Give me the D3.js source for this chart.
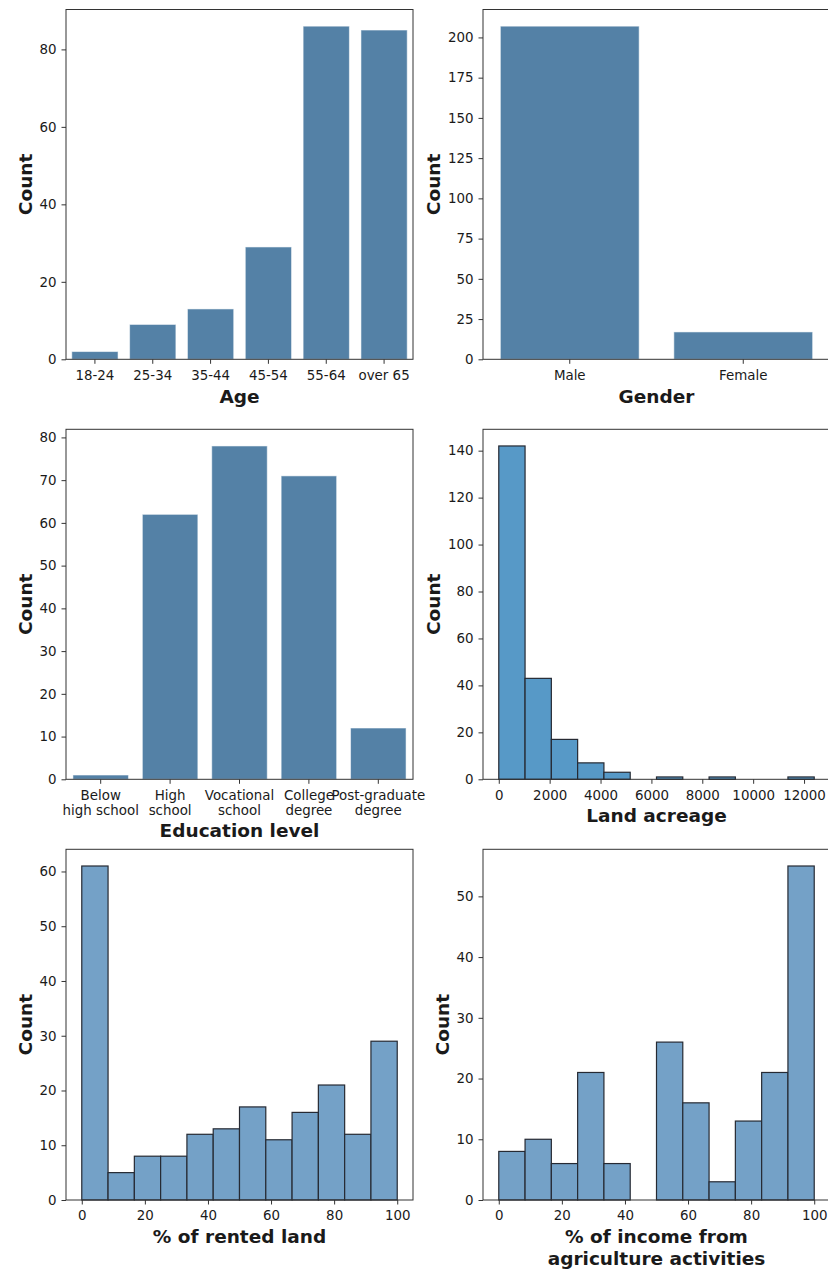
<!DOCTYPE html>
<html>
<head>
<meta charset="utf-8">
<script src="https://cdn.jsdelivr.net/npm/d3@7"></script>
<style>
  html, body { margin: 0; padding: 0; background: #fff; }
  svg { display: block; }
  text { font-family: "DejaVu Sans", sans-serif; fill: #1a1a1a; }
</style>
</head>
<body>
<svg id="chart" width="828" height="1270"></svg>
<script>
// ---------- DATA ----------
const ageCategories = ["18-24", "25-34", "35-44", "45-54", "55-64", "over 65"];
const ageCounts = [2, 9, 13, 29, 86, 85];
const ageTicks = [0, 20, 40, 60, 80];

const genderCategories = ["Male", "Female"];
const genderCounts = [207, 17];
const genderTicks = [0, 25, 50, 75, 100, 125, 150, 175, 200];

const eduCategories = ["Below\nhigh school", "High\nschool", "Vocational\nschool", "College\ndegree", "Post-graduate\ndegree"];
const eduCounts = [1, 62, 78, 71, 12];
const eduTicks = [0, 10, 20, 30, 40, 50, 60, 70, 80];

const landRange = [0, 12400];
const landCounts = [142, 43, 17, 7, 3, 0, 1, 0, 1, 0, 0, 1];
const landYTicks = [0, 20, 40, 60, 80, 100, 120, 140];
const landXTicks = [0, 2000, 4000, 6000, 8000, 10000, 12000];

const rentedRange = [0, 100];
const rentedCounts = [61, 5, 8, 8, 12, 13, 17, 11, 16, 21, 12, 29];
const rentedYTicks = [0, 10, 20, 30, 40, 50, 60];

const incomeRange = [0, 100];
const incomeCounts = [8, 10, 6, 21, 6, 0, 26, 16, 3, 13, 21, 55];
const incomeYTicks = [0, 10, 20, 30, 40, 50];

const pctXTicks = [0, 20, 40, 60, 80, 100];

// ---------- LAYOUT ----------
const svg = d3.select("#chart");
svg.append("rect").attr("width", 828).attr("height", 1270).attr("fill", "#fff");

const cols = [[66, 413], [483, 830]];
const rows = [[9.5, 359.3], [429.3, 779.3], [849.3, 1200]];
const SPINE = "#333";
const TICKFONT = 13.4;
const LABELFONT = 18.5;
const fmt = d3.format("d");

function styleAxis(g) {
  g.select(".domain").remove();
  g.selectAll(".tick line").attr("stroke", SPINE).attr("stroke-width", 1);
  g.selectAll(".tick text").attr("font-size", TICKFONT).attr("fill", "#1a1a1a")
    .attr("font-family", "DejaVu Sans, sans-serif");
}

function frame(col, row, opts) {
  const [x0, x1] = cols[col];
  const [yt, yb] = rows[row];
  const g = svg.append("g");
  const y = d3.scaleLinear().domain([0, d3.max(opts.counts) * 1.05]).range([yb, yt]);
  return { g, x0, x1, yt, yb, y };
}

function finish(p, opts, xAxisGen) {
  const { g, x0, x1, yt, yb, y } = p;
  const ya = g.append("g").attr("transform", `translate(${x0},0)`)
    .call(d3.axisLeft(y).tickValues(opts.yTicks).tickFormat(fmt).tickSize(4.5).tickPadding(5));
  styleAxis(ya);
  const xa = g.append("g").attr("transform", `translate(0,${yb})`).call(xAxisGen);
  styleAxis(xa);
  xa.selectAll(".tick text").each(function(d) {
    const t = d3.select(this);
    const label = t.text();
    if (label.includes("\n")) {
      const lines = label.split("\n");
      t.text(null);
      lines.forEach((ln, i) => {
        t.append("tspan").attr("x", 0).attr("dy", i === 0 ? "0.71em" : 15).text(ln);
      });
      t.attr("dy", null);
    }
  });
  g.append("rect").attr("x", x0).attr("y", yt).attr("width", x1 - x0).attr("height", yb - yt)
    .attr("fill", "none").attr("stroke", SPINE).attr("stroke-width", 1);
  g.append("text")
    .attr("transform", `translate(${x0 - opts.yLabelOffset},${(yt + yb) / 2}) rotate(-90)`)
    .attr("text-anchor", "middle").attr("font-weight", "bold").attr("font-size", LABELFONT)
    .text("Count");
  const xl = g.append("text").attr("text-anchor", "middle").attr("font-weight", "bold")
    .attr("font-size", LABELFONT);
  const xc = (x0 + x1) / 2;
  opts.xLabel.forEach((ln, i) => {
    xl.append("tspan").attr("x", xc).attr("y", yb + opts.xLabelOffset + i * 21.5).text(ln);
  });
}

function countPanel(col, row, opts) {
  const p = frame(col, row, opts);
  const x = d3.scaleBand().domain(opts.categories).range([p.x0, p.x1])
    .paddingInner(0.2).paddingOuter(0.1);
  p.g.append("g").selectAll("rect").data(opts.categories).join("rect")
    .attr("x", d => x(d)).attr("width", x.bandwidth())
    .attr("y", (d, i) => p.y(opts.counts[i]))
    .attr("height", (d, i) => p.y(0) - p.y(opts.counts[i]))
    .attr("fill", "#5481a6").attr("stroke", "#ffffff").attr("stroke-opacity", 0.55).attr("stroke-width", 1);
  finish(p, opts, d3.axisBottom(x).tickSize(4.5).tickPadding(6.3));
}

function histPanel(col, row, opts) {
  const p = frame(col, row, opts);
  const [lo, hi] = opts.range;
  const pad = (hi - lo) * 0.05;
  const x = d3.scaleLinear().domain([lo - pad, hi + pad]).range([p.x0, p.x1]);
  const n = opts.counts.length;
  const w = (hi - lo) / n;
  const bins = opts.counts.map((c, i) => ({ a: lo + i * w, b: lo + (i + 1) * w, c }));
  p.g.append("g").selectAll("rect").data(bins.filter(b => b.c > 0)).join("rect")
    .attr("x", d => x(d.a)).attr("width", d => x(d.b) - x(d.a))
    .attr("y", d => p.y(d.c)).attr("height", d => p.y(0) - p.y(d.c))
    .attr("fill", opts.color).attr("stroke", "#262a33").attr("stroke-width", 1.2);
  finish(p, opts, d3.axisBottom(x).tickValues(opts.xTicks).tickFormat(fmt).tickSize(4.5).tickPadding(6.3));
}

countPanel(0, 0, { categories: ageCategories, counts: ageCounts, yTicks: ageTicks,
  xLabel: ["Age"], xLabelOffset: 43.5, yLabelOffset: 34.5 });
countPanel(1, 0, { categories: genderCategories, counts: genderCounts, yTicks: genderTicks,
  xLabel: ["Gender"], xLabelOffset: 43.5, yLabelOffset: 42.7 });
countPanel(0, 1, { categories: eduCategories, counts: eduCounts, yTicks: eduTicks,
  xLabel: ["Education level"], xLabelOffset: 57.4, yLabelOffset: 34.5 });
histPanel(1, 1, { range: landRange, counts: landCounts, yTicks: landYTicks, xTicks: landXTicks,
  color: "#5799c7", xLabel: ["Land acreage"], xLabelOffset: 43, yLabelOffset: 42.7 });
histPanel(0, 2, { range: rentedRange, counts: rentedCounts, yTicks: rentedYTicks, xTicks: pctXTicks,
  color: "#74a1c7", xLabel: ["% of rented land"], xLabelOffset: 43.3, yLabelOffset: 34.5 });
histPanel(1, 2, { range: incomeRange, counts: incomeCounts, yTicks: incomeYTicks, xTicks: pctXTicks,
  color: "#74a1c7", xLabel: ["% of income from", "agriculture activities"], xLabelOffset: 43.3, yLabelOffset: 34.4 });
</script>
</body>
</html>
